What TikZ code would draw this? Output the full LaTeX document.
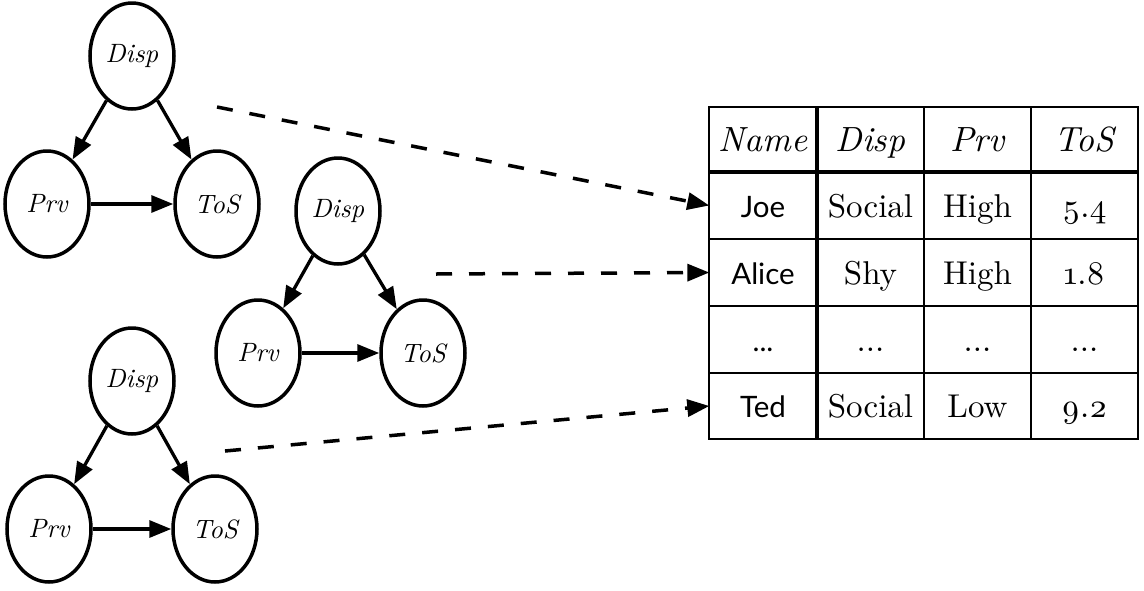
\documentclass[tikz,border=0pt]{standalone}
\usepackage{fontspec}
\setmainfont{lmroman10-regular.otf}[ItalicFont=lmroman10-italic.otf]
\newfontfamily\namefont{Lato}
\newfontfamily\osf{lmroman10-regular.otf}[Numbers=OldStyle]
\usetikzlibrary{shapes.geometric,arrows.meta}
\tikzset{
  var/.style={ellipse,draw,line width=3.5pt,minimum width=84pt,minimum height=106pt,inner sep=0pt,font=\fontsize{26.5}{28}\selectfont\itshape},
  edge/.style={line width=3.3pt,-{Triangle[length=22pt,width=17pt]}},
  link/.style={line width=3.5pt,dash pattern=on 16pt off 17pt,-{Triangle[length=22pt,width=17pt]}},
  cell/.style={minimum width=107pt,minimum height=66pt,inner sep=0pt,text height=26pt,text depth=3pt},
  head/.style={cell,font=\fontsize{35}{38}\selectfont\itshape},
  val/.style={cell,font=\fontsize{33}{36}\selectfont},
  nam/.style={cell,font=\fontsize{29.5}{32}\selectfont\namefont},
  thin/.style={line width=2pt},
  thick/.style={line width=4pt}
}
\begin{document}
\begin{tikzpicture}[x=1pt,y=-1pt]
\useasboundingbox (0,0) rectangle (1144,590);
% cluster 1
\node[var] (d1) at (132,56) {Disp};
\node[var] (p1) at (47,204) {Prv};
\node[var] (t1) at (217,204) {ToS};
\draw[edge] (d1) -- (p1);
\draw[edge] (d1) -- (t1);
\draw[edge] (p1) -- (t1);
% cluster 2
\node[var] (d2) at (338,211) {Disp};
\node[var] (p2) at (258,353) {Prv};
\node[var] (t2) at (423,353) {ToS};
\draw[edge] (d2) -- (p2);
\draw[edge] (d2) -- (t2);
\draw[edge] (p2) -- (t2);
% cluster 3
\node[var] (d3) at (132,381) {Disp};
\node[var] (p3) at (49,529) {Prv};
\node[var] (t3) at (215,529) {ToS};
\draw[edge] (d3) -- (p3);
\draw[edge] (d3) -- (t3);
\draw[edge] (p3) -- (t3);
% table cells
\node[head] (hn) at (763,139.5) {Name};
\node[head] (hd) at (870.5,139.5) {Disp};
\node[head] (hp) at (977.5,139.5) {Prv};
\node[head] (ht) at (1084.5,139.5) {ToS};
\node[nam] (joe) at (763,205.5) {Joe};
\node[val] (jd) at (870.5,205.5) {Social};
\node[val] (jp) at (977.5,205.5) {High};
\node[val] (jt) at (1084.5,205.5) {\osf 5.4};
\node[nam] (alice) at (763,272.5) {Alice};
\node[val] (ad) at (870.5,272.5) {Shy};
\node[val] (ap) at (977.5,272.5) {High};
\node[val] (at) at (1084.5,272.5) {\osf 1.8};
\node[nam] (dots) at (763,339.5) {...};
\node[val] (dd) at (870.5,339.5) {...};
\node[val] (dp) at (977.5,339.5) {...};
\node[val] (dt) at (1084.5,339.5) {...};
\node[nam] (ted) at (763,406) {Ted};
\node[val] (td) at (870.5,406) {Social};
\node[val] (tp) at (977.5,406) {Low};
\node[val] (tt) at (1084.5,406) {\osf 9.2};
% table lines
\draw[thin] (709,107) rectangle (1138,439);
\draw[thin] (924,107) -- (924,439);
\draw[thin] (1031,107) -- (1031,439);
\draw[thin] (709,239) -- (1138,239);
\draw[thin] (709,306) -- (1138,306);
\draw[thin] (709,373) -- (1138,373);
\draw[thick] (817,107) -- (817,439);
\draw[thick] (709,172) -- (1138,172);
% links
\coordinate (s1) at (217,107);
\coordinate (s2) at (436,274);
\coordinate (s3) at (225,451);
\draw[link] (s1) -- (joe.west);
\draw[link] (s2) -- (alice.west);
\draw[link] (s3) -- (ted.west);
\end{tikzpicture}
\end{document}
